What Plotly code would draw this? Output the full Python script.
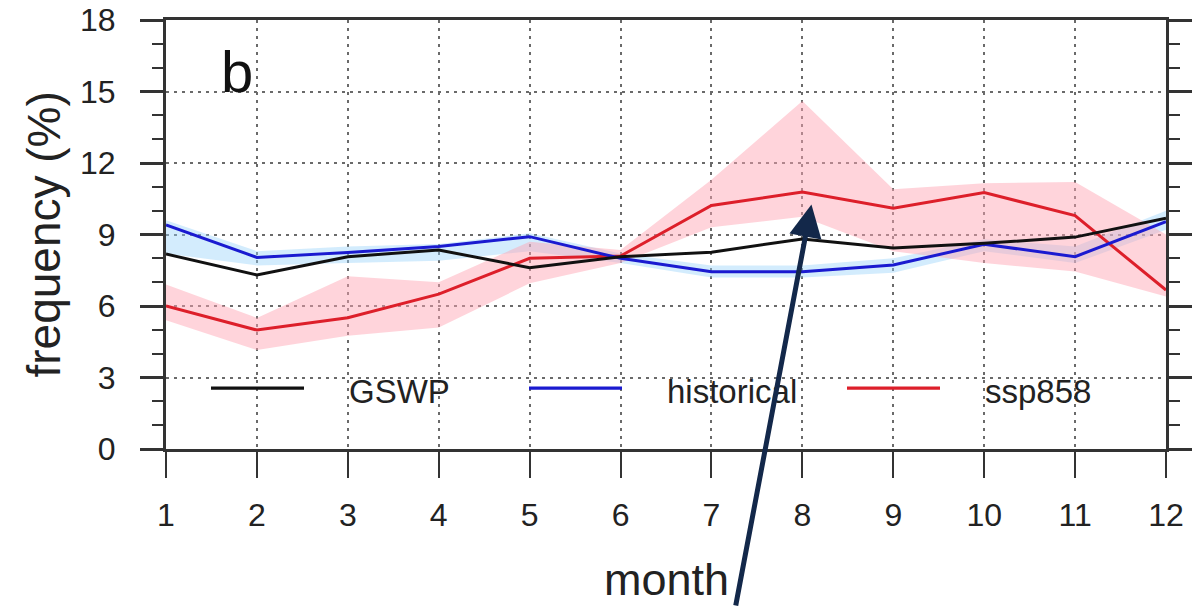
import plotly.graph_objects as go

# Monthly frequency (%) of events, observations vs. model ensembles
months = list(range(1, 13))
gswp = [8.18, 7.30, 8.07, 8.35, 7.61, 8.07, 8.26, 8.81, 8.43, 8.63, 8.89, 9.68]
historical = [9.40, 8.04, 8.25, 8.50, 8.91, 8.00, 7.44, 7.44, 7.72, 8.59, 8.07, 9.54]
historical_lo = [8.2, 7.7, 7.8, 7.9, 8.3, 7.8, 7.2, 7.2, 7.4, 8.3, 7.8, 9.2]
historical_hi = [9.6, 8.3, 8.5, 8.6, 9.05, 8.2, 7.7, 7.7, 8.0, 8.8, 8.5, 10.0]
ssp858 = [6.0, 4.99, 5.51, 6.5, 8.0, 8.1, 10.22, 10.78, 10.1, 10.76, 9.79, 6.67]
ssp858_lo = [5.4, 4.15, 4.75, 5.1, 6.95, 7.8, 9.3, 9.75, 8.3, 7.8, 7.45, 6.4]
ssp858_hi = [6.9, 5.5, 7.25, 7.0, 8.7, 8.35, 11.3, 14.6, 10.9, 11.15, 11.2, 9.0]

y_ticks = [0, 3, 6, 9, 12, 15, 18]

FONT = "Liberation Sans, Arial, Helvetica, sans-serif"
AXIS_COLOR = "#333333"
BLACK = "#111111"
BLUE = "#1a1ad0"
RED = "#dd1f2a"
BLUE_BAND = "rgba(150,210,250,0.42)"
RED_BAND = "rgba(255,165,180,0.48)"

fig = go.Figure()


def add_band(lo, hi, color):
    fig.add_trace(go.Scatter(x=months, y=lo, mode="lines", line=dict(width=0),
                             hoverinfo="skip", showlegend=False))
    fig.add_trace(go.Scatter(x=months, y=hi, mode="lines", line=dict(width=0),
                             fill="tonexty", fillcolor=color,
                             hoverinfo="skip", showlegend=False))


add_band(historical_lo, historical_hi, BLUE_BAND)
add_band(ssp858_lo, ssp858_hi, RED_BAND)

for name, vals, col in [("ssp858", ssp858, RED), ("historical", historical, BLUE),
                        ("GSWP", gswp, BLACK)]:
    fig.add_trace(go.Scatter(x=months, y=vals, mode="lines", name=name,
                             line=dict(color=col, width=3), showlegend=False))

# Hand-drawn legend row inside the plot
legend_items = [("GSWP", BLACK, 0.045), ("historical", BLUE, 0.363), ("ssp858", RED, 0.681)]
shapes = []
annotations = []
for label, col, x0 in legend_items:
    shapes.append(dict(type="line", xref="paper", yref="paper",
                       x0=x0, x1=x0 + 0.093, y0=0.142, y1=0.142,
                       line=dict(color=col, width=3.2)))
    annotations.append(dict(xref="paper", yref="paper", x=x0 + 0.136, y=0.135,
                            text=label, showarrow=False, xanchor="left", yanchor="middle",
                            font=dict(family=FONT, size=33, color="#222222")))

# Panel letter
annotations.append(dict(xref="paper", yref="paper", x=0.071, y=0.879, text="b",
                        showarrow=False, xanchor="center", yanchor="middle",
                        font=dict(family=FONT, size=58, color="#111111")))
# Axis titles
annotations.append(dict(xref="paper", yref="paper", x=-0.123, y=0.5,
                        text="frequency (%)", textangle=-90, showarrow=False,
                        xanchor="center", yanchor="middle",
                        font=dict(family=FONT, size=46, color="#222222")))
annotations.append(dict(xref="paper", yref="paper", x=0.5, y=-0.305, text="month",
                        showarrow=False, xanchor="center", yanchor="middle",
                        font=dict(family=FONT, size=45, color="#222222")))
# Pointer to the August peak of ssp858
annotations.append(dict(xref="x", yref="y", x=months[7] + 0.1, y=ssp858[7] - 0.52,
                        text="", showarrow=True, ax=-76, ay=415,
                        arrowhead=2, arrowsize=1.3, arrowwidth=5, arrowcolor="#13284a"))

fig.update_layout(
    width=1201, height=607,
    margin=dict(l=166, r=35, t=20, b=158, autoexpand=False),
    paper_bgcolor="white", plot_bgcolor="white",
    font=dict(family=FONT, color="#222222"),
    shapes=shapes, annotations=annotations,
    showlegend=False,
)

fig.update_xaxes(
    range=[1, 12], tickmode="array", tickvals=months, ticktext=[str(m) for m in months],
    showline=True, linecolor=AXIS_COLOR, linewidth=3, mirror=True,
    ticks="outside", ticklen=26, tickwidth=2.2, tickcolor=AXIS_COLOR,
    tickfont=dict(family=FONT, size=32, color="#222222"), ticklabelstandoff=10,
    showgrid=True, gridcolor="#6a6a6a", gridwidth=1.6, griddash="3px,5px",
    zeroline=False, automargin=False,
)
fig.update_yaxes(
    range=[0, 18], tickmode="array", tickvals=y_ticks, ticktext=[str(v) for v in y_ticks],
    showline=True, linecolor=AXIS_COLOR, linewidth=3, mirror="ticks",
    ticks="outside", ticklen=23, tickwidth=2.8, tickcolor=AXIS_COLOR,
    tickfont=dict(family=FONT, size=32, color="#222222"), ticklabelstandoff=18,
    minor=dict(dtick=1, ticks="outside", ticklen=11, tickwidth=2.2, tickcolor=AXIS_COLOR,
               showgrid=False),
    showgrid=True, gridcolor="#6a6a6a", gridwidth=1.6, griddash="3px,5px",
    zeroline=False, automargin=False,
)

fig.write_html("out.html")
